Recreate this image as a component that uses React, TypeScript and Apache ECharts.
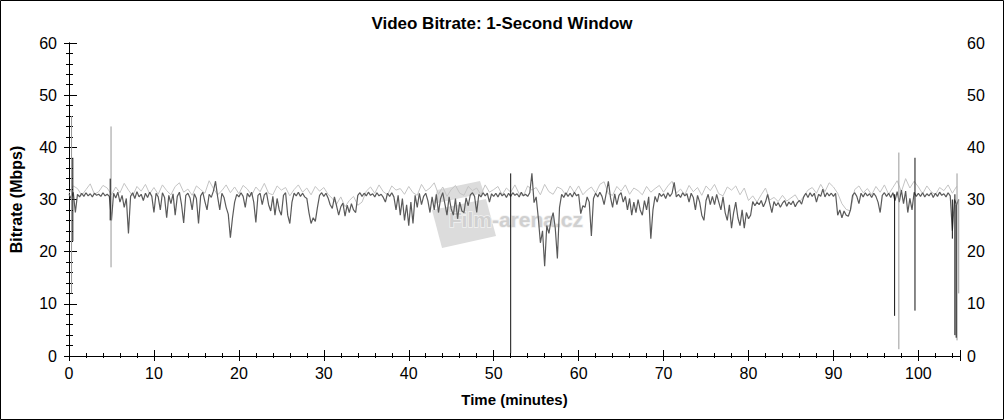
import React, { useEffect, useRef } from "react";
import * as echarts from "echarts";

// ---- Data (Mbps), main trace sampled every 0.25 minute ----
const STEP = 0.25;
const fine0 = [31,30.2,31.4,27.5,31,30.5,31.2,30.6,31.3,30.7,31.1,30.5,31.2,30.8,31.0,30.6,31.3,30.7,31.0,30.6,26,31.2,30.3,31.4,29.5,30.8,28.5,30.2,23.5,30.6,31.3,30.2,31.5,30.5,31.0,29.8,31.2,30.4,31.4,30.6];
const fine10 = [27.5,31.2,30.5,28,31.3,30.4,26.5,30.8,29.2,31.1,27,30.6,31.4,29,25.5,30.8,31.2,30.3,28,31.1,30.2,25.4,30.7,31.4,29.6,28,31,30.4,31.6,33.5,30.5,28,31.2,30.4,28.5,27.2,22.7,26.5,29.5,31];
const fine20 = [30.5,31.3,30.6,28.5,31.2,30.5,31.4,29.5,25.6,30.8,31.2,29,30.9,31.3,29,27.8,30.6,27,30.2,28,27,30.8,31.3,27,25.4,29.5,31.2,30.7,31.4,30.6,31.2,30.5,30.2,27.5,25.4,26.5,25.8,28.5,30.8,31.3];
const fine30 = [30.6,31.2,30.3,29,28.3,30.5,28.8,27,28.6,29.3,26.8,28.9,27.5,29.2,28,27.5,30.8,31.3,30.6,31.2,30.7,31.4,30.8,31.1,30.5,31.3,30.7,31.0,30.4,29.5,31.2,30.6,31.3,30.5,28,30.8,27,30.2,26,29];
const fine40 = [25,29.5,25.4,30.8,28.5,31.2,29,30.6,31.2,29.8,27.5,30.5,28,31,27.5,30.2,31.3,29.2,27,30.5,28.2,27,30.2,26.3,29.5,27.8,27.5,30.3,28.8,30.9,31.3,30.6,27.5,31.0,30.5,31.3,30.7,31.2,29.5,31.1];
const fine50 = [30.6,31.2,30.5,31.3,30.7,31.1,30.4,31.2,30.6,31.3,30.8,31.1,30.5,31.4,30.7,31.0,30.6,31.3,35,29.4,30.5,26.5,21.7,24,17.2,25,23.5,26,27.5,24.5,18.7,28.5,31,30.4,31.3,30.6,31.2,30.5,31.4,30.7];
const fine60 = [31,27.3,28.8,28.5,30.5,29.5,23,30.2,31.2,30.5,31.4,30.6,29,31.2,33.5,30.4,28.5,31.1,29,30.8,31.3,29.5,30.6,28,30.2,27,29.5,27.5,30,28,27,29.8,28,30.5,22.5,28,30.6,29.5,31.2,30.6];
const fine70 = [31.1,30.2,31.3,30.6,31.2,33.3,30.5,31.0,30.4,31.3,30.7,31.1,29.5,31.2,30.4,28,30.8,29.5,27,26,29.8,31,29,30.6,29,31,29.5,28,30.5,27.5,26,29,24.5,27.5,29.5,26.5,25,28,24.5,27.5];
const fine80 = [26.3,27,29.6,28.8,29.5,29,29.8,28.6,29.5,31,29.2,27.5,29.6,28.8,29.4,28.5,29.3,29.8,28.7,29.5,29,29.7,28.6,29.4,29.8,29.1,30.5,31.2,30.4,31.3,30.6,31.2,29.5,31,30.6,32,30.5,31.3,30.7,31.2];
const fine90 = [30.6,31.2,27,28,26.5,27.8,27,26.8,28,30.8,31.3,30.6,29.2,31.2,30.5,31.3,30.7,31.1,30.4,31.2,30.6,29.5,27.5,30.8,31.3,30.6,31.2,30.4,31.3,29.8,31.5,29.5,31.8,29.2,31.6,27.5,30.2,28,31.4,30.6];
const fine100 = [31.2,30.6,31.3,30.5,31.1,30.7,31.3,30.4,31.2,30.6,31.4,30.8,31.1,30.5,31.3,30.7,24,30,29,30];

// ---- Light-gray peak fuzz, sampled every 0.5 minute ----
const FUZZ_STEP = 0.5;
const fuzz0 = [31.2,32.6,32.1,30.8,31.9,33.0,31.0,31.5,32.7,32.2,30.9,32.4,31.3,33.1,31.8,30.7,32.5,31.6,32.9,31.1];
const fuzz10 = [32.3,31.0,32.8,31.7,30.9,32.5,33.2,31.4,32.0,30.8,32.6,31.9,31.2,33.6,32.1,30.9,31.7,32.8,31.3,32.4];
const fuzz20 = [31.1,32.7,32.0,30.8,32.4,31.5,33.1,31.2,30.9,32.6,31.8,32.3,30.7,31.9,32.8,31.4,32.2,30.9,32.5,31.6];
const fuzz30 = [32.3,31.0,30.2,29.1,30.5,28.6,29.8,30.6,28.9,29.5,31.6,32.4,31.2,32.8,31.5,30.9,32.6,31.8,32.1,31.0];
const fuzz40 = [32.5,31.3,30.8,32.9,31.6,32.2,33.2,31.0,32.4,30.6,31.9,32.7,31.2,30.8,32.5,31.7,32.2,30.9,32.8,31.4];
const fuzz50 = [31.9,32.5,30.9,32.2,31.4,32.8,31.1,30.7,32.6,31.8,32.3,30.9,32.9,31.5,31.0,32.4,32.0,30.8,32.6,31.3];
const fuzz60 = [32.6,30.9,31.8,32.4,31.2,32.9,33.4,31.1,30.8,32.5,31.6,32.8,31.0,32.2,31.7,30.9,32.5,31.4,32.1,32.7];
const fuzz70 = [31.4,32.6,33.5,31.2,32.0,30.9,32.7,31.5,32.3,30.8,32.6,31.7,32.9,31.1,30.7,32.4,31.8,32.6,30.9,32.2];
const fuzz80 = [29.8,30.7,29.5,30.9,32.2,29.9,30.4,29.6,30.8,29.7,30.3,30.9,29.5,30.6,31.8,32.3,31.2,32.9,31.5,33.2];
const fuzz90 = [32.4,31.2,29.2,28.1,27.8,31.9,32.6,31.3,32.1,30.9,32.5,31.4,32.8,31.0,32.3,33.6,31.5,34.0,32.2,33.5];
const fuzz100 = [32.4,31.1,32.6,31.5,30.9,32.3,31.7,32.8,31.2,32.5];

// ---- Isolated vertical spikes: [minute, top, bottom] ----
const spikesGray = [[0.3,46,12],[4.95,44,17],[97.7,39,1.3],[104.55,35,3],[104.75,30,12]];
const spikesBlack = [[0.45,38,22],[4.85,34,26],[52.0,35,0.5],[97.2,31,7.7],[99.6,38,8.7],[104.0,30,22.5],[104.3,31,4],[104.45,29,3.5]];

// ---- Axes ----
const X_MAX = 104.9;
const Y_MAX = 60;
const TITLE = "Video Bitrate: 1-Second Window";
const X_NAME = "Time (minutes)";
const Y_NAME = "Bitrate (Mbps)";

function toPairs(segments: number[][], step: number, segLen: number) {
  const out: number[][] = [];
  segments.forEach((seg, si) => {
    seg.forEach((v, i) => out.push([si * segLen + i * step, v]));
  });
  return out;
}

const FONT = "Liberation Sans, Arial, sans-serif";

export default function App() {
  const ref = useRef<HTMLDivElement>(null);
  useEffect(() => {
    document.body.style.margin = "0";
    if (!ref.current) return;
    const chart = echarts.init(ref.current, undefined, { renderer: "svg" });
    const fineData = toPairs([fine0, fine10, fine20, fine30, fine40, fine50, fine60, fine70, fine80, fine90, fine100], STEP, 10);
    const fuzzData = toPairs([fuzz0, fuzz10, fuzz20, fuzz30, fuzz40, fuzz50, fuzz60, fuzz70, fuzz80, fuzz90, fuzz100], FUZZ_STEP, 10);
    const gridRect = { left: 69, right: 44, top: 43, bottom: 64 };
    const black = { color: "#000", width: 1 };
    const xlabelFmt = (v: number) => (Math.abs(v % 10) < 1e-6 ? String(v) : "");
    const spikeSeries = (arr: number[][], color: string) =>
      arr.map((s) => ({
        type: "line",
        xAxisIndex: 0,
        yAxisIndex: 0,
        data: [[s[0], s[1]], [s[0], s[2]]],
        symbol: "none",
        lineStyle: { color, width: 1 },
        z: 3,
        silent: true,
      }));
    chart.setOption({
      animation: false,
      backgroundColor: "#fff",
      title: {
        text: TITLE,
        left: "center",
        top: 10,
        textStyle: { fontSize: 17, fontWeight: "bold", color: "#000", fontFamily: FONT },
      },
      grid: [
        { ...gridRect },
        { ...gridRect },
        { ...gridRect },
      ],
      xAxis: [
        {
          gridIndex: 0, type: "value", position: "bottom", min: 0, max: X_MAX, interval: 10,
          axisLine: { show: true, lineStyle: black },
          axisTick: { show: true, inside: true, length: 6, lineStyle: black },
          axisLabel: { show: true, color: "#000", fontSize: 16, fontFamily: FONT, margin: 9, formatter: xlabelFmt },
          splitLine: { show: false },
          name: X_NAME, nameLocation: "middle", nameGap: 36,
          nameTextStyle: { fontSize: 15, fontWeight: "bold", color: "#000", fontFamily: FONT },
        },
        {
          gridIndex: 0, type: "value", position: "top", min: 0, max: X_MAX, interval: 10,
          axisLine: { show: true, lineStyle: black },
          axisTick: { show: true, inside: true, length: 5, lineStyle: black },
          axisLabel: { show: false },
          splitLine: { show: false },
        },
        {
          gridIndex: 1, type: "value", position: "bottom", min: 0, max: X_MAX, interval: 10,
          axisLine: { show: false },
          axisTick: { show: true, inside: false, length: 5, lineStyle: black },
          axisLabel: { show: false },
          splitLine: { show: false },
        },
        {
          gridIndex: 1, type: "value", position: "top", min: 0, max: X_MAX, interval: 2,
          axisLine: { show: false },
          axisTick: { show: true, inside: true, length: 2, lineStyle: black },
          axisLabel: { show: false },
          splitLine: { show: false },
        },
        {
          gridIndex: 2, type: "value", position: "bottom", min: 0, max: X_MAX, interval: 2,
          axisLine: { show: false },
          axisTick: { show: true, inside: true, length: 3, lineStyle: black },
          axisLabel: { show: false },
          splitLine: { show: false },
        },
      ],
      yAxis: [
        {
          gridIndex: 0, type: "value", position: "left", min: 0, max: Y_MAX, interval: 10,
          axisLine: { show: true, lineStyle: black },
          axisTick: { show: true, inside: true, length: 8, lineStyle: black },
          minorTick: { show: true, splitNumber: 5, length: 4, lineStyle: black },
          axisLabel: { show: true, color: "#000", fontSize: 16, fontFamily: FONT, margin: 12 },
          splitLine: { show: false },
          name: Y_NAME, nameLocation: "middle", nameGap: 45,
          nameTextStyle: { fontSize: 16, fontWeight: "bold", color: "#000", fontFamily: FONT },
        },
        {
          gridIndex: 0, type: "value", position: "right", min: 0, max: Y_MAX, interval: 10,
          axisLine: { show: true, lineStyle: black },
          axisTick: { show: true, inside: true, length: 5, lineStyle: black },
          minorTick: { show: true, splitNumber: 5, length: 3, lineStyle: black },
          axisLabel: { show: true, color: "#000", fontSize: 16, fontFamily: FONT, margin: 7 },
          splitLine: { show: false },
        },
        {
          gridIndex: 1, type: "value", position: "left", min: 0, max: Y_MAX, interval: 10,
          axisLine: { show: false },
          axisTick: { show: true, inside: false, length: 3, lineStyle: black },
          axisLabel: { show: false },
          splitLine: { show: false },
        },
        {
          gridIndex: 1, type: "value", position: "right", min: 0, max: Y_MAX, interval: 10,
          axisLine: { show: false },
          axisTick: { show: true, inside: false, length: 5, lineStyle: black },
          axisLabel: { show: false },
          splitLine: { show: false },
        },
        {
          gridIndex: 2, type: "value", position: "left", min: 0, max: Y_MAX, interval: 10,
          show: false,
        },
      ],
      graphic: [
        {
          type: "polygon", z: 0, silent: true,
          shape: { points: [[432, 210], [486, 199], [496, 236], [442, 248]] },
          style: { fill: "#dcdcdc" },
        },
        {
          type: "polygon", z: 0, silent: true,
          shape: { points: [[433, 204], [484, 193], [480, 181], [437, 190]] },
          style: { fill: "#dcdcdc" },
        },
        {
          type: "text", z: 0, silent: true, left: 448, top: 208,
          style: { text: "Film-arena.cz", fontSize: 21, fontWeight: "bold", fontFamily: FONT, fill: "#d0d0d0", stroke: "#f2f2f2", lineWidth: 1.5 },
        },
        {
          type: "rect", z: 100, silent: true,
          shape: { x: 0.5, y: 0.5, width: 1003, height: 419 },
          style: { fill: "none", stroke: "#000", lineWidth: 1 },
        },
      ],
      series: [
        {
          type: "line", xAxisIndex: 0, yAxisIndex: 0, data: fuzzData, symbol: "none",
          lineStyle: { color: "#c4c4c4", width: 1 }, z: 2, silent: true,
        },
        {
          type: "line", xAxisIndex: 0, yAxisIndex: 0, data: fineData, symbol: "none",
          lineStyle: { color: "#5a5a5a", width: 1.2 }, z: 2, silent: true,
        },
        ...spikeSeries(spikesGray, "#999"),
        ...spikeSeries(spikesBlack, "#111"),
      ],
    });
    return () => chart.dispose();
  }, []);
  return <div ref={ref} style={{ width: 1004, height: 420, position: "absolute", left: 0, top: 0 }} />;
}
